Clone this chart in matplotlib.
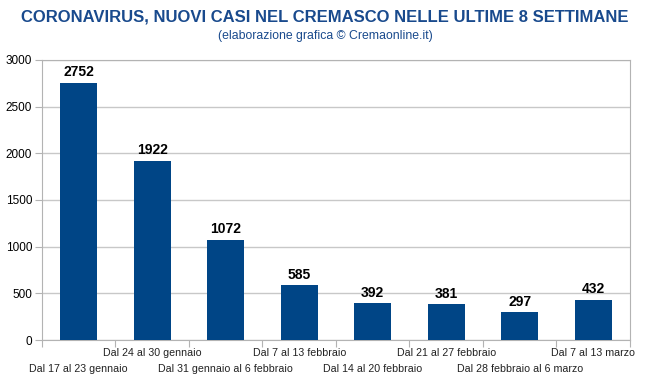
import matplotlib

matplotlib.use("Agg")
import matplotlib.pyplot as plt  # noqa: E402
import numpy as np  # noqa: E402

# dati
settimane = [
    "Dal 17 al 23 gennaio",
    "Dal 24 al 30 gennaio",
    "Dal 31 gennaio al 6 febbraio",
    "Dal 7 al 13 febbraio",
    "Dal 14 al 20 febbraio",
    "Dal 21 al 27 febbraio",
    "Dal 28 febbraio al 6 marzo",
    "Dal 7 al 13 marzo",
]
casi = [2752, 1922, 1072, 585, 392, 381, 297, 432]
y_ticks = [0, 500, 1000, 1500, 2000, 2500, 3000]

BLU = "#004586"
GRIGIO = "#b3b3b3"

plt.rcParams["font.family"] = ["Liberation Sans", "DejaVu Sans"]

fig = plt.figure(figsize=(6.5, 3.86), dpi=100)
ax = fig.add_axes([0.0646, 0.119, 0.9046, 0.726])

x = np.arange(len(casi))
ax.bar(x, casi, width=0.5, color=BLU, zorder=3)
for xi, v in zip(x, casi):
    ax.text(xi, v + 40, str(v), ha="center", va="bottom", fontsize=10,
            fontweight="bold", color="black", zorder=4)

ax.set_xlim(-0.5, len(casi) - 0.5)
ax.set_ylim(0, 3000)
ax.set_yticks(y_ticks)
ax.tick_params(axis="y", length=5, color=GRIGIO, labelsize=8.5, pad=2)
ax.yaxis.grid(True, color="#c8c8c8", lw=1, zorder=0)

# tacche tra le categorie, etichette sfalsate su due righe
ax.set_xticks(np.arange(-0.5, len(casi), 1.0))
ax.set_xticklabels([])
ax.tick_params(axis="x", length=5, color=GRIGIO)
for i, lab in enumerate(settimane):
    yoff = -0.028 if i % 2 == 1 else -0.084
    ax.text(i, yoff, lab, transform=ax.get_xaxis_transform(), ha="center",
            va="top", fontsize=7.7, color="#222222")

for s in ax.spines.values():
    s.set_color(GRIGIO)

fig.text(0.5, 0.956, "CORONAVIRUS, NUOVI CASI NEL CREMASCO NELLE ULTIME 8 SETTIMANE",
         ha="center", va="center", fontsize=12, fontweight="bold", color="#194a8d")
fig.text(0.5, 0.907, "(elaborazione grafica \u00a9 Cremaonline.it)",
         ha="center", va="center", fontsize=8.8, color="#194a8d")

fig.savefig("out.png", dpi=100)
